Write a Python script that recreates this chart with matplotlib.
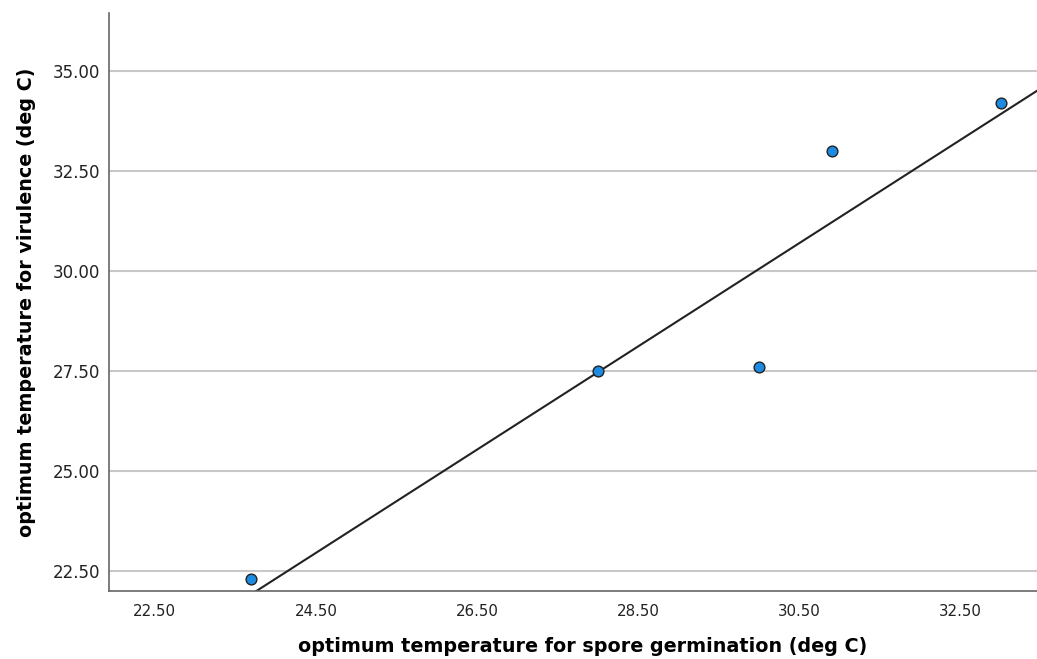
import numpy as np
from matplotlib import pyplot as plt

# optimum temperatures (deg C) for each isolate
germination = [23.7, 28.0, 30.0, 30.9, 33.0]
virulence = [22.3, 27.5, 27.6, 33.0, 34.2]

x_ticks = [22.5, 24.5, 26.5, 28.5, 30.5, 32.5]
y_ticks = [22.5, 25.0, 27.5, 30.0, 32.5, 35.0]

plt.rcParams['font.family'] = ['DejaVu Sans']

fig = plt.figure(figsize=(10.37, 6.59), dpi=100)
ax = fig.add_axes([0.105, 0.103, 0.895, 0.877])

ax.set_xlim(21.93, 33.45)
ax.set_ylim(22.0, 36.45)

for yv in y_ticks:
    ax.axhline(yv, color='#c8c8c8', lw=1.5, zorder=0)

# least squares fit line
slope, intercept = np.polyfit(germination, virulence, 1)
xs = np.array(ax.get_xlim())
ax.plot(xs, slope * xs + intercept, color='#222222', lw=1.5, zorder=2)

ax.scatter(germination, virulence, s=60, color='#1c8ce3',
           edgecolor='#222222', linewidth=1.0, zorder=3)

ax.set_xticks(x_ticks)
ax.set_xticklabels(['%0.02f' % v for v in x_ticks], fontsize=10.8, color='#222222')
ax.set_yticks(y_ticks)
ax.set_yticklabels(['%0.02f' % v for v in y_ticks], fontsize=12, color='#222222')
ax.tick_params(axis='both', length=0)
ax.tick_params(axis='x', pad=9)
ax.tick_params(axis='y', pad=6)

for side in ['top', 'right']:
    ax.spines[side].set_visible(False)
for side in ['left', 'bottom']:
    ax.spines[side].set_color('#666666')
    ax.spines[side].set_linewidth(1.2)

ax.set_xlabel('optimum temperature for spore germination (deg C)',
              fontsize=13.8, fontweight='bold')
ax.xaxis.set_label_coords(0.51, -0.08)
ax.set_ylabel('optimum temperature for virulence (deg C)',
              fontsize=13.8, fontweight='bold', labelpad=12)

plt.savefig('out.png', dpi=100)
